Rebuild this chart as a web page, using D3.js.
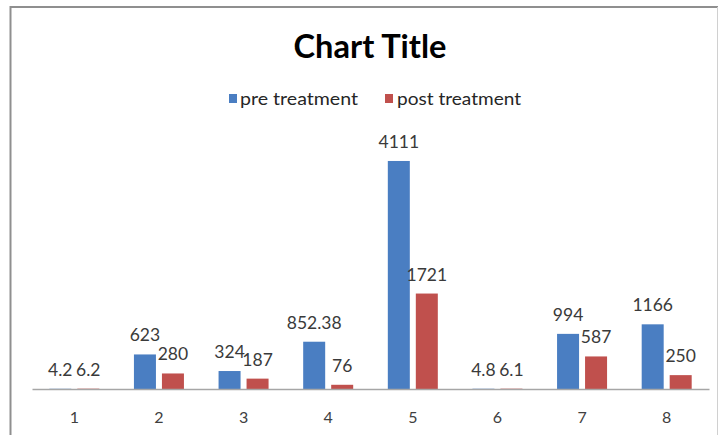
<!DOCTYPE html>
<html><head><meta charset="utf-8">
<script src="https://cdn.jsdelivr.net/npm/d3@7"></script>
<style>html,body{margin:0;padding:0;background:#fff;}svg{display:block;}</style>
</head><body>
<svg id="chart" width="718" height="435"></svg>
<script>
const categories = ["1","2","3","4","5","6","7","8"];
const preTreatment = [4.2, 623, 324, 852.38, 4111, 4.8, 994, 1166];
const postTreatment = [6.2, 280, 187, 76, 1721, 6.1, 587, 250];
const seriesNames = ["pre treatment", "post treatment"];
const colors = ["#4a7ec2", "#c0504d"];

const svg = d3.select("#chart");
const font = "Lato, 'Open Sans', sans-serif";

// outer chart border (left & top strong, right faint, bottom cropped)
svg.append("line").attr("x1", 10.5).attr("x2", 10.5).attr("y1", 6).attr("y2", 435)
  .attr("stroke", "#8f8f8f").attr("stroke-width", 2);
svg.append("line").attr("x1", 10).attr("x2", 718).attr("y1", 7).attr("y2", 7)
  .attr("stroke", "#8f8f8f").attr("stroke-width", 2);
svg.append("line").attr("x1", 717.5).attr("x2", 717.5).attr("y1", 7).attr("y2", 435)
  .attr("stroke", "#d0d0d0").attr("stroke-width", 1);

const x = d3.scaleBand().domain(categories).range([32, 709]);
const y = d3.scaleLinear().domain([0, 4500]).range([389, 139.4]);
const barW = 22, offset = 14;

// title
svg.append("text").attr("x", 370).attr("y", 58).attr("text-anchor", "middle")
  .attr("font-family", font).attr("font-weight", "bold").attr("font-size", 33)
  .attr("fill", "#000").attr("textLength", 153).attr("lengthAdjust", "spacingAndGlyphs")
  .text("Chart Title");

// legend
const legendItems = [
  {name: seriesNames[0], color: colors[0], sx: 229, tx: 240, tw: 118},
  {name: seriesNames[1], color: colors[1], sx: 385, tx: 397, tw: 124}
];
legendItems.forEach(d => {
  svg.append("rect").attr("x", d.sx).attr("y", 94).attr("width", 8).attr("height", 9).attr("fill", d.color);
  svg.append("text").attr("x", d.tx).attr("y", 105).attr("font-family", font).attr("font-size", 17)
    .attr("fill", "#262626").attr("textLength", d.tw).attr("lengthAdjust", "spacingAndGlyphs").text(d.name);
});

const data = categories.map((c, i) => ({c, pre: preTreatment[i], post: postTreatment[i]}));
const series = [
  {key: "pre", dx: -offset, color: colors[0]},
  {key: "post", dx: offset, color: colors[1]}
];

series.forEach(s => {
  svg.append("g").selectAll("rect").data(data).join("rect")
    .attr("x", d => x(d.c) + x.bandwidth() / 2 + s.dx - barW / 2)
    .attr("y", d => y(d[s.key]))
    .attr("width", barW)
    .attr("height", d => y(0) - y(d[s.key]))
    .attr("fill", s.color);
});

// axis
const axis = d3.axisBottom(x).tickSize(0).tickPadding(0);
const ag = svg.append("g").attr("transform", `translate(0,${y(0)})`).call(axis);
ag.select(".domain").attr("stroke", "#a6a6a6").attr("stroke-width", 1.5);
ag.selectAll(".tick text").attr("font-family", font).attr("font-size", 16)
  .attr("fill", "#404040").attr("dy", "0").attr("y", 34);

// data labels
series.forEach(s => {
  svg.append("g").selectAll("text").data(data).join("text")
    .attr("x", d => x(d.c) + x.bandwidth() / 2 + s.dx)
    .attr("y", d => y(d[s.key]) - 13)
    .attr("text-anchor", "middle")
    .attr("font-family", font).attr("font-size", 17.5).attr("fill", "#3a3a3a")
    .text(d => String(d[s.key]));
});
</script>
</body></html>
